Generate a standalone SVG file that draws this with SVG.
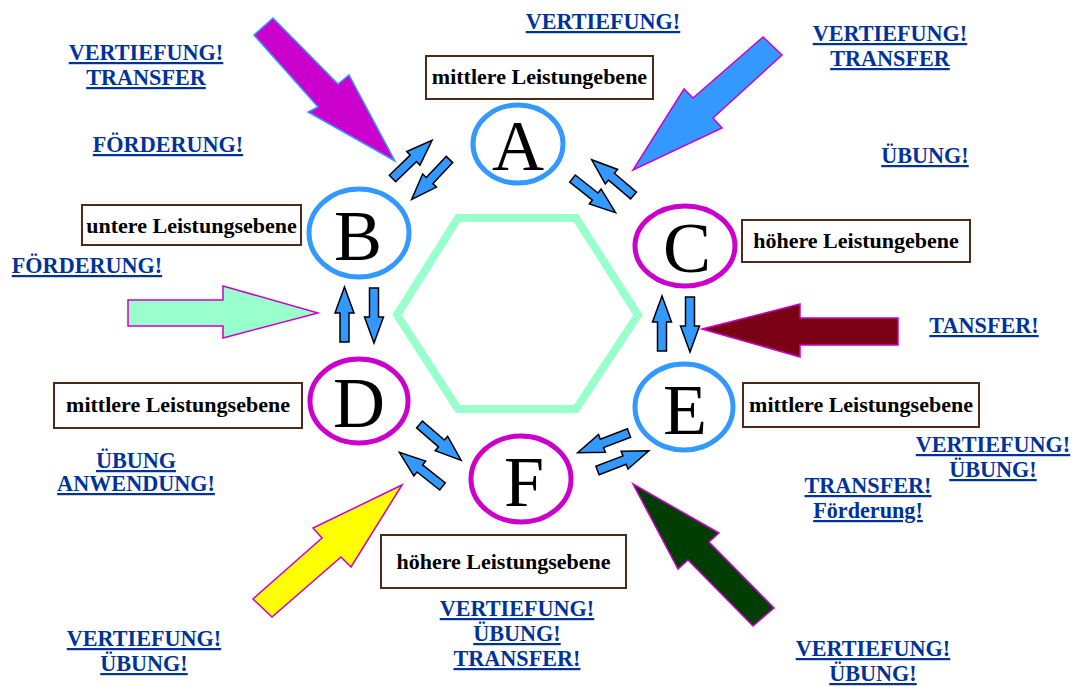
<svg xmlns="http://www.w3.org/2000/svg" xmlns:xlink="http://www.w3.org/1999/xlink" width="1074" height="686" viewBox="0 0 1074 686">
<style>
.lbl{font-family:"Liberation Serif","Times New Roman",serif;font-weight:bold;font-size:22.2px;fill:#003399;text-decoration:underline;text-anchor:middle}
.box rect{fill:#fff;stroke:#4d2b1a;stroke-width:2}
.box text{font-family:"Liberation Serif","Times New Roman",serif;font-weight:bold;font-size:22px;fill:#000;text-anchor:middle}
.ring{fill:none;stroke-width:5}
.blue{stroke:#3399ff}
.mag{stroke:#cc00cc}
.letter{font-family:"Liberation Serif","Times New Roman",serif;font-size:72px;fill:#000;text-anchor:middle}
.big{stroke-width:1.5;stroke-linejoin:miter}
.sm{fill:#3399ff;stroke:#000;stroke-width:1.5}
</style>
<defs>
<path id="sa" d="M0,-4.5 L29,-4.5 L29,-9.5 L55,0 L29,9.5 L29,4.5 L0,4.5 Z"/>
</defs>
<rect width="1074" height="686" fill="#fff"/>
<polygon points="397,315 458,218 576,218 638,315 576,409 458,409" fill="none" stroke="#99ffcc" stroke-width="8"/>
<g id="connectors">
<polygon class="big" points="273,18 338,84 349,75 395,161 308,112 318,107 254,35" fill="#cc00cc" stroke="#3399ff"/>
<polygon class="big" points="763,37 693,98 684,89 633,170 722,128 713,118 782,55" fill="#3399ff" stroke="#cc00cc"/>
<polygon class="big" points="128,300 223,300 223,286 318,313 223,338 223,326 128,326" fill="#99ffcc" stroke="#cc00cc"/>
<polygon class="big" points="702,329 800,304 800,318 898,318 898,345 800,345 800,357" fill="#7a0015" stroke="#cc00cc"/>
<polygon class="big" points="402,485 313,528 322,538 253,599 272,617 341,557 351,567" fill="#ffff00" stroke="#cc00cc"/>
<polygon class="big" points="633,484 719,533 709,542 774,608 753,626 688,560 678,569" fill="#003d00" stroke="#cc00cc"/>
<use xlink:href="#sa" class="sm" transform="translate(392.5,178.5) rotate(-44)"/>
<use xlink:href="#sa" class="sm" transform="translate(449.5,159.5) rotate(133.5)"/>
<use xlink:href="#sa" class="sm" transform="translate(572.5,178.5) rotate(38.4)"/>
<use xlink:href="#sa" class="sm" transform="translate(633.5,195.5) rotate(220.5)"/>
<use xlink:href="#sa" class="sm" transform="translate(344.5,342) rotate(-90)"/>
<use xlink:href="#sa" class="sm" transform="translate(374,288) rotate(90)"/>
<use xlink:href="#sa" class="sm" transform="translate(662,351) rotate(-90)"/>
<use xlink:href="#sa" class="sm" transform="translate(690,297) rotate(90)"/>
<use xlink:href="#sa" class="sm" transform="translate(419.5,424.5) rotate(40.8)"/>
<use xlink:href="#sa" class="sm" transform="translate(442.5,486.5) rotate(218.4)"/>
<use xlink:href="#sa" class="sm" transform="translate(629,433) rotate(159)"/>
<use xlink:href="#sa" class="sm" transform="translate(597.5,470.5) rotate(-21)"/>
</g>
<g id="nodeA"><ellipse class="ring blue" cx="518" cy="144" rx="45" ry="39"/><text class="letter" x="518" y="170">A</text></g>
<g id="nodeB"><ellipse class="ring blue" cx="359" cy="233" rx="50" ry="44"/><text class="letter" x="358" y="260">B</text></g>
<g id="nodeC"><ellipse class="ring mag" cx="685" cy="246" rx="50" ry="40"/><text class="letter" x="687" y="272">C</text></g>
<g id="nodeD"><ellipse class="ring mag" cx="359" cy="401" rx="49" ry="42"/><text class="letter" x="359" y="427">D</text></g>
<g id="nodeE"><ellipse class="ring blue" cx="684" cy="407" rx="49" ry="43"/><text class="letter" x="685" y="434">E</text></g>
<g id="nodeF"><ellipse class="ring mag" cx="521" cy="479" rx="50" ry="43"/><text class="letter" x="524" y="506">F</text></g>
<g id="boxA" class="box"><rect x="426" y="56" width="227" height="43"/><text x="539.5" y="84">mittlere Leistungebene</text></g>
<g id="boxB" class="box"><rect x="82" y="205" width="219" height="40"/><text x="191.5" y="233">untere Leistungsebene</text></g>
<g id="boxC" class="box"><rect x="742" y="220" width="228" height="42"/><text x="856" y="248">höhere Leistungebene</text></g>
<g id="boxD" class="box"><rect x="54" y="383" width="248" height="45"/><text x="178" y="412">mittlere Leistungsebene</text></g>
<g id="boxE" class="box"><rect x="743" y="383" width="236" height="44"/><text x="861" y="412">mittlere Leistungsebene</text></g>
<g id="boxF" class="box"><rect x="381" y="535" width="245" height="53"/><text x="503.5" y="569">höhere Leistungsebene</text></g>
<g id="labels">
<text class="lbl" x="146" y="60">VERTIEFUNG!</text>
<text class="lbl" x="146" y="85">TRANSFER</text>
<text class="lbl" x="168" y="152">FÖRDERUNG!</text>
<text class="lbl" x="603" y="29">VERTIEFUNG!</text>
<text class="lbl" x="890" y="41">VERTIEFUNG!</text>
<text class="lbl" x="890" y="66">TRANSFER</text>
<text class="lbl" x="925" y="163">ÜBUNG!</text>
<text class="lbl" x="87" y="273">FÖRDERUNG!</text>
<text class="lbl" x="984" y="333">TANSFER!</text>
<text class="lbl" x="993" y="452">VERTIEFUNG!</text>
<text class="lbl" x="993" y="477">ÜBUNG!</text>
<text class="lbl" x="868" y="493">TRANSFER!</text>
<text class="lbl" x="868" y="518">Förderung!</text>
<text class="lbl" x="136" y="468">ÜBUNG</text>
<text class="lbl" x="136" y="491">ANWENDUNG!</text>
<text class="lbl" x="517" y="616">VERTIEFUNG!</text>
<text class="lbl" x="517" y="641">ÜBUNG!</text>
<text class="lbl" x="517" y="666">TRANSFER!</text>
<text class="lbl" x="144" y="646">VERTIEFUNG!</text>
<text class="lbl" x="144" y="671">ÜBUNG!</text>
<text class="lbl" x="873" y="656">VERTIEFUNG!</text>
<text class="lbl" x="873" y="681">ÜBUNG!</text>
</g>
</svg>
